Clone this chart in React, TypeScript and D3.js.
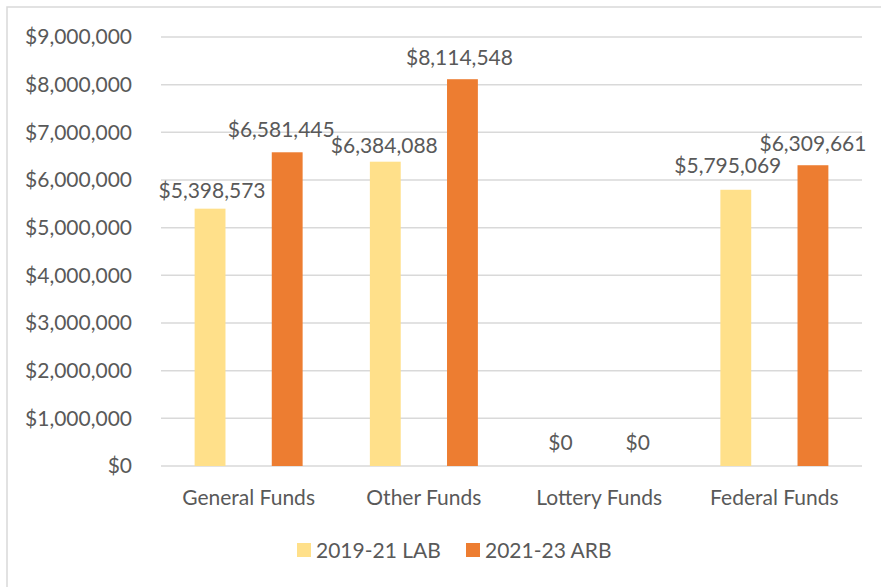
import React from "react";
import * as d3 from "d3";

const categories = ["General Funds", "Other Funds", "Lottery Funds", "Federal Funds"];
const seriesNames = ["2019-21 LAB", "2021-23 ARB"];
const lab2019 = [5398573, 6384088, 0, 5795069];
const arb2021 = [6581445, 8114548, 0, 6309661];
const yTicks = [0, 1000000, 2000000, 3000000, 4000000, 5000000, 6000000, 7000000, 8000000, 9000000];
const colors = ["#FFE08A", "#ED7D31"];

// data-label placement nudges (dx, gap above bar), per series then category
const labelNudge = [
  [[2, 11], [-1, 9], [0, 16], [-8, 17]],
  [[-6, 15.5], [-3, 14], [0, 16], [0, 14]],
];

const W = 881;
const H = 587;
const FONT = "Lato, 'Open Sans', sans-serif";
const TXT = "#595959";
const FS = 21;

export default function App() {
  const left = 161, right = 862, top = 37, bottom = 466;
  const x0 = d3.scaleBand<string>().domain(categories).range([left, right]).padding(0);
  const cw = x0.bandwidth();
  const x1 = d3
    .scaleBand<string>()
    .domain(seriesNames)
    .range([cw / 2 - 54, cw / 2 + 54])
    .paddingInner(0.6)
    .paddingOuter(0);
  const y = d3.scaleLinear().domain([0, 9000000]).range([bottom, top]);
  const fmt = (v: number) => "$" + d3.format(",")(v);
  const data = [lab2019, arb2021];

  return (
    <svg width={W} height={H} style={{ display: "block", position: "absolute", left: 0, top: 0 }}>
      <rect x={0} y={0} width={W} height={H} fill="#fff" />
      <rect x={7} y={7} width={W + 20} height={H + 20} fill="none" stroke="#d9d9d9" strokeWidth={1.5} />
      {yTicks.map((t) => (
        <g key={t}>
          <line x1={left} x2={right} y1={y(t)} y2={y(t)} stroke="#d9d9d9" strokeWidth={1.5} />
          <text x={132} y={y(t)} dy="0.35em" textAnchor="end" fontFamily={FONT} fontSize={FS} fill={TXT}>
            {fmt(t)}
          </text>
        </g>
      ))}
      {categories.map((c, i) => (
        <g key={c} transform={`translate(${x0(c)},0)`}>
          {seriesNames.map((s, j) => {
            const v = data[j][i];
            const bx = x1(s)!;
            const bw = x1.bandwidth();
            const [dx, gap] = labelNudge[j][i];
            return (
              <g key={s}>
                <rect x={bx} y={y(v)} width={bw} height={bottom - y(v)} fill={colors[j]} />
                <text
                  x={bx + bw / 2 + dx}
                  y={y(v) - gap}
                  textAnchor="middle"
                  fontFamily={FONT}
                  fontSize={FS}
                  fill={TXT}
                >
                  {fmt(v)}
                </text>
              </g>
            );
          })}
          <text x={cw / 2} y={505} textAnchor="middle" fontFamily={FONT} fontSize={FS} fill={TXT}>
            {c}
          </text>
        </g>
      ))}
      {seriesNames.map((s, j) => {
        const lx = j === 0 ? 297 : 466;
        return (
          <g key={s}>
            <rect x={lx} y={543} width={14} height={14} fill={colors[j]} />
            <text x={lx + 19} y={558} fontFamily={FONT} fontSize={FS} fill={TXT}>
              {s}
            </text>
          </g>
        );
      })}
    </svg>
  );
}
